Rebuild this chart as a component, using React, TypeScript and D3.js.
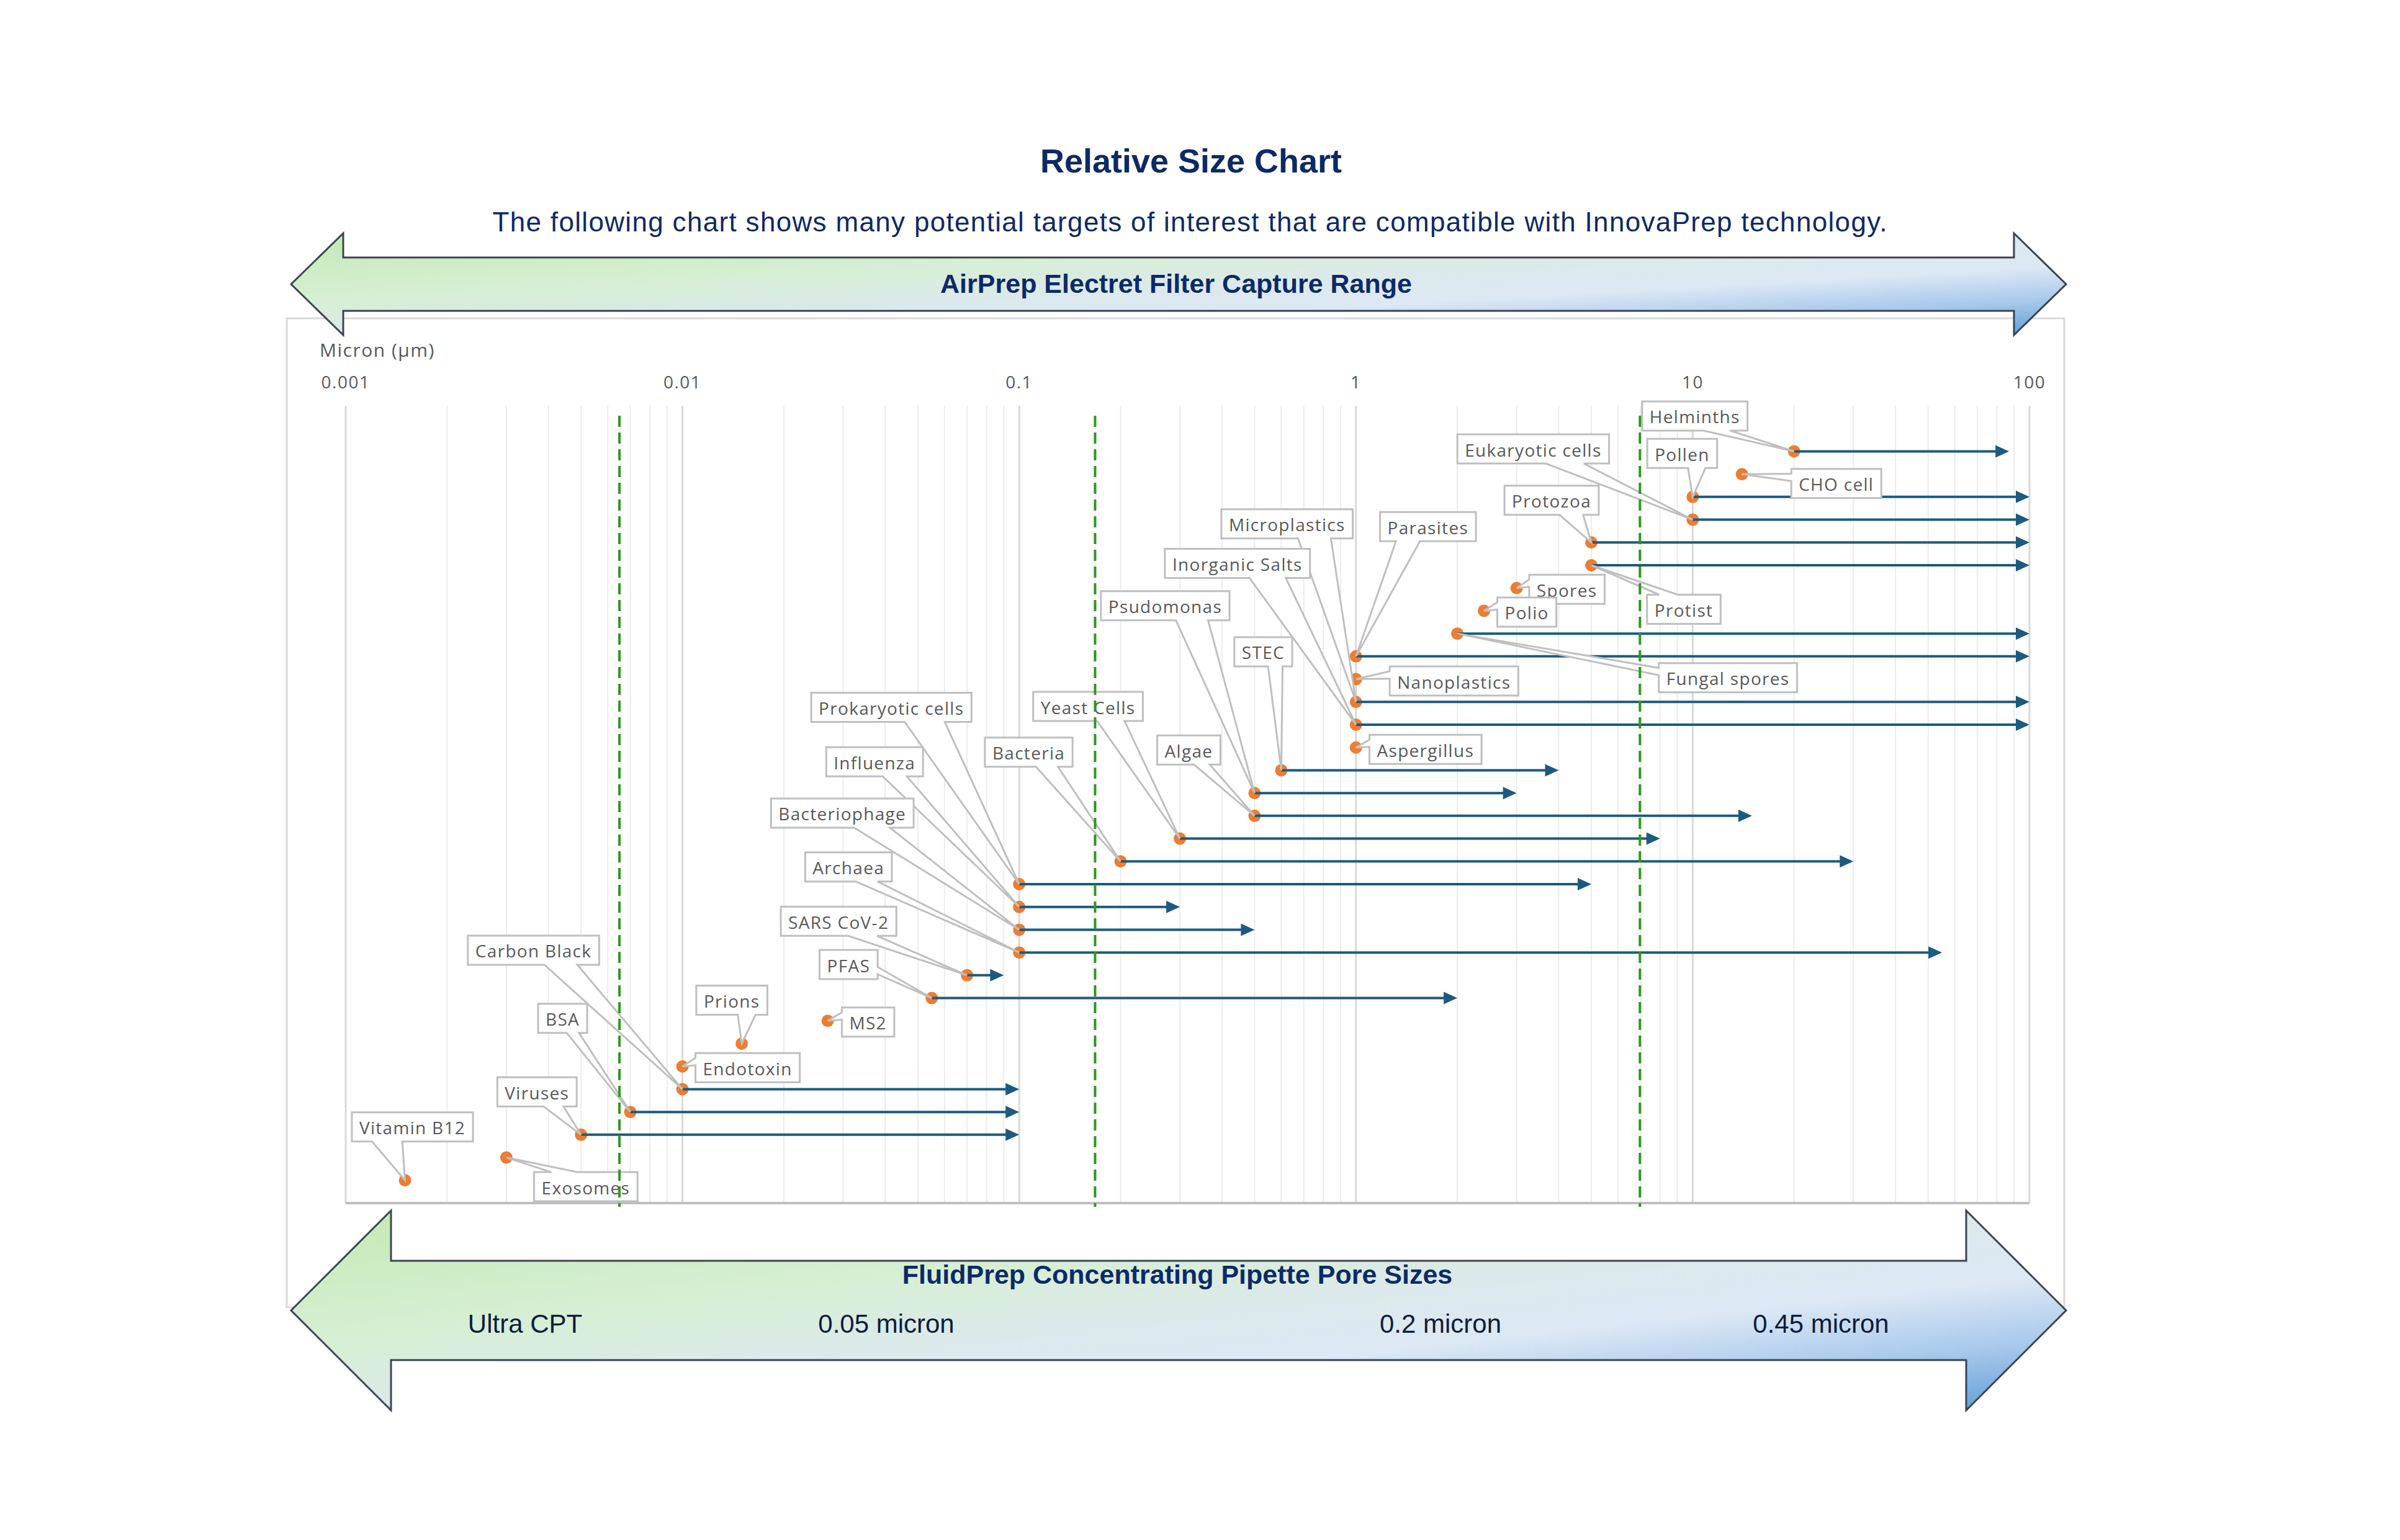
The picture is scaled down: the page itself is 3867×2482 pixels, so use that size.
import React, { useMemo } from "react";
import * as d3 from "d3";

const W = 3867;
const H = 2482;

// ---------------- data ----------------
const targets = [
  "Helminths", "CHO cell", "Pollen", "Eukaryotic cells", "Protozoa", "Protist", "Spores", "Polio",
  "Fungal spores", "Parasites", "Nanoplastics", "Microplastics", "Inorganic Salts", "Aspergillus",
  "STEC", "Psudomonas", "Algae", "Yeast Cells", "Bacteria", "Prokaryotic cells", "Influenza",
  "Bacteriophage", "Archaea", "SARS CoV-2", "PFAS", "MS2", "Prions", "Endotoxin", "Carbon Black",
  "BSA", "Viruses", "Exosomes", "Vitamin B12",
];
// smallest size (micron)
const minSize = [
  20, 14, 10, 10, 5, 5, 3, 2.4,
  2, 1, 1, 1, 1, 1,
  0.6, 0.5, 0.5, 0.3, 0.2, 0.1, 0.1,
  0.1, 0.1, 0.07, 0.055, 0.027, 0.015, 0.01, 0.01,
  0.007, 0.005, 0.003, 0.0015,
];
// upper end of size range (arrow), null = single value
const maxSize: (number | null)[] = [
  87, null, 100, 100, 100, 100, null, null,
  100, 100, null, 100, 100, null,
  4, 3, 15, 8, 30, 5, 0.3,
  0.5, 55, 0.09, 2, null, null, null, 0.1,
  0.1, 0.1, null, null,
];
// callout box centre relative to its point (layout, px)
const labelOffset: [number, number][] = [
  [-160, -57], [152, 15], [-17, -70], [-257, -114], [-64, -68], [149, 71], [81, 2], [69, 2],
  [436, 71], [116, -209], [158, 3], [-111, -287], [-191, -260], [112, 3],
  [-29, -191], [-144, -302], [-106, -106], [-148, -213], [-148, -176], [-206, -285], [-233, -234],
  [-285, -188], [-275, -138], [-207, -87], [-134, -54], [65, 2], [-16, -70], [105, 2], [-240, -224],
  [-109, -151], [-71, -69], [128, 47], [12, -86],
];
const poreLines = [0.0065, 0.168, 6.97];
const tickValues = [0.001, 0.01, 0.1, 1, 10, 100];
const tickLabels = ["0.001", "0.01", "0.1", "1", "10", "100"];
const poreLabels = ["Ultra CPT", "0.05 micron", "0.2 micron", "0.45 micron"];
const poreLabelX = [846, 1428, 2321, 2934];

const TITLE = "Relative Size Chart";
const SUBTITLE =
  "The following chart shows many potential targets of interest that are compatible with InnovaPrep technology.";
const TOP_ARROW = "AirPrep Electret Filter Capture Range";
const BOTTOM_ARROW = "FluidPrep Concentrating Pipette Pore Sizes";

// ---------------- layout ----------------
const PLOT = { left: 557, right: 3270, top: 654, bottom: 1939 };
const LABEL_FONT = "'Open Sans', 'Noto Sans', sans-serif";
const LABEL_SIZE = 28;
const LABEL_LS = 1.3;
const NAVY = "#0d2a66";

function calloutPath(cx: number, cy: number, w: number, h: number, tx: number, ty: number) {
  const l = cx - w / 2, r = cx + w / 2, t = cy - h / 2, b = cy + h / 2;
  const dx = tx - cx, dy = ty - cy;
  if (Math.abs(dx) <= w / 2 && Math.abs(dy) <= h / 2) {
    return `M${l},${t}H${r}V${b}H${l}Z`;
  }
  const dq = (dx * h) / w;
  const dz = Math.abs(dy) - Math.abs(dq);
  const x1 = l + (w * (dx > 0 ? 7 : 2)) / 12;
  const x2 = l + (w * (dx > 0 ? 10 : 5)) / 12;
  const y1 = t + (h * (dy > 0 ? 7 : 2)) / 12;
  const y2 = t + (h * (dy > 0 ? 10 : 5)) / 12;
  if (dz > 0) {
    if (dy < 0) return `M${l},${t}L${x1},${t}L${tx},${ty}L${x2},${t}L${r},${t}L${r},${b}L${l},${b}Z`;
    return `M${l},${t}L${r},${t}L${r},${b}L${x2},${b}L${tx},${ty}L${x1},${b}L${l},${b}Z`;
  }
  if (dx < 0) return `M${l},${t}L${r},${t}L${r},${b}L${l},${b}L${l},${y2}L${tx},${ty}L${l},${y1}Z`;
  return `M${l},${t}L${r},${t}L${r},${y1}L${tx},${ty}L${r},${y2}L${r},${b}L${l},${b}Z`;
}

function doubleArrow(x0: number, x1: number, cy: number, headLen: number, headHalf: number, shaftHalf: number) {
  return [
    `M${x0},${cy}`,
    `L${x0 + headLen},${cy - headHalf}`,
    `L${x0 + headLen},${cy - shaftHalf}`,
    `L${x1 - headLen},${cy - shaftHalf}`,
    `L${x1 - headLen},${cy - headHalf}`,
    `L${x1},${cy}`,
    `L${x1 - headLen},${cy + headHalf}`,
    `L${x1 - headLen},${cy + shaftHalf}`,
    `L${x0 + headLen},${cy + shaftHalf}`,
    `L${x0 + headLen},${cy + headHalf}`,
    "Z",
  ].join("");
}

export default function App() {
  const x = useMemo(() => d3.scaleLog().domain([0.001, 100]).range([PLOT.left, PLOT.right]), []);
  const y = useMemo(() => d3.scaleLinear().domain([0, 35]).range([PLOT.bottom, PLOT.top]), []);

  const widths = useMemo(() => {
    const ctx = document.createElement("canvas").getContext("2d")!;
    ctx.font = `${LABEL_SIZE}px ${LABEL_FONT}`;
    return targets.map((t) => ctx.measureText(t).width + LABEL_LS * t.length);
  }, []);

  const minor: number[] = [];
  for (let e = -3; e < 2; e++) for (let k = 2; k <= 9; k++) minor.push(k * Math.pow(10, e));

  const items = targets.map((name, i) => {
    const px = x(minSize[i]);
    const py = y(targets.length - i);
    const bw = widths[i] + 24;
    const bh = 47;
    const cx = px + labelOffset[i][0];
    const cy = py + labelOffset[i][1];
    return { name, i, px, py, bw, bh, cx, cy, max: maxSize[i] };
  });

  const arrowGrad = (id: string) => (
    <linearGradient id={id} x1="0" y1="0" x2="1" y2="1">
      <stop offset="0" stopColor="#c2e9b3" />
      <stop offset="0.33" stopColor="#d6efd3" />
      <stop offset="0.52" stopColor="#dce9ec" />
      <stop offset="0.66" stopColor="#dce8f5" />
      <stop offset="0.82" stopColor="#a9c9ec" />
      <stop offset="1" stopColor="#5b9bd5" />
    </linearGradient>
  );

  return (
    <svg width={W} height={H} viewBox={`0 0 ${W} ${H}`}
      style={{ display: "block", background: "#fff", position: "absolute", left: 0, top: 0 }}>
      <defs>
        {arrowGrad("gTop")}
        {arrowGrad("gBot")}
      </defs>
      <rect x={0} y={0} width={W} height={H} fill="#fff" />

      {/* titles */}
      <text x={1919} y={278} textAnchor="middle" fontFamily="'Liberation Sans', Arial, sans-serif"
        fontWeight="bold" fontSize={54} fill={NAVY}>{TITLE}</text>
      <text x={1917} y={373} textAnchor="middle" fontFamily="'Liberation Sans', Arial, sans-serif"
        fontSize={44} textLength={2247} lengthAdjust="spacing" fill={NAVY}>{SUBTITLE}</text>

      {/* chart frame */}
      <rect x={462} y={513} width={2864} height={1594} fill="#fff" stroke="#d9d9d9" strokeWidth={3} />

      {/* gridlines */}
      <g>
        {minor.map((v, k) => (
          <line key={"m" + k} x1={x(v)} x2={x(v)} y1={PLOT.top} y2={PLOT.bottom} stroke="#ececec" strokeWidth={2} />
        ))}
        {tickValues.map((v, k) => (
          <line key={"M" + k} x1={x(v)} x2={x(v)} y1={PLOT.top} y2={PLOT.bottom} stroke="#d9d9d9" strokeWidth={3} />
        ))}
        <line x1={PLOT.left} x2={PLOT.right} y1={PLOT.bottom} y2={PLOT.bottom} stroke="#bfbfbf" strokeWidth={4} />
      </g>

      {/* axis labels */}
      <text x={515} y={575} fontFamily={LABEL_FONT} fontSize={30} letterSpacing={1.5} fill="#595959">Micron (µm)</text>
      {tickValues.map((v, k) => (
        <text key={"t" + k} x={x(v)} y={626} textAnchor="middle" fontFamily={LABEL_FONT} fontSize={28}
          letterSpacing={1.5} fill="#595959">{tickLabels[k]}</text>
      ))}

      {/* points */}
      {items.map((d) => (
        <circle key={"p" + d.i} cx={d.px} cy={d.py} r={10} fill="#ed7d31" />
      ))}

      {/* size range arrows */}
      {items.filter((d) => d.max != null).map((d) => {
        const xe = x(d.max as number);
        return (
          <g key={"a" + d.i}>
            <line x1={d.px} x2={xe - 18} y1={d.py} y2={d.py} stroke="#1d5b7e" strokeWidth={4} />
            <path d={`M${xe},${d.py}L${xe - 22},${d.py - 10}L${xe - 22},${d.py + 10}Z`} fill="#1d5b7e" />
          </g>
        );
      })}

      {/* callouts */}
      {items.map((d) => (
        <g key={"c" + d.i}>
          <path d={calloutPath(d.cx, d.cy, d.bw, d.bh, d.px, d.py)} fill="#fff" stroke="#bfbfbf"
            strokeWidth={3} strokeLinejoin="miter" />
          <text x={d.cx} y={d.cy + 1} textAnchor="middle" dominantBaseline="central" fontFamily={LABEL_FONT}
            fontSize={LABEL_SIZE} letterSpacing={LABEL_LS} fill="#595959">{d.name}</text>
        </g>
      ))}

      {/* pore size lines */}
      {poreLines.map((v, k) => (
        <line key={"g" + k} x1={x(v)} x2={x(v)} y1={670} y2={1945} stroke="#2b9a1c" strokeWidth={4}
          strokeDasharray="18 9" />
      ))}

      {/* top arrow */}
      <path d={doubleArrow(469, 3329, 458, 84, 82, 43)} fill="url(#gTop)" stroke="#3b4550" strokeWidth={3}
        strokeLinejoin="miter" />
      <text x={1895} y={461} textAnchor="middle" dominantBaseline="middle"
        fontFamily="'Liberation Sans', Arial, sans-serif" fontWeight="bold" fontSize={43} fill={NAVY}>{TOP_ARROW}</text>

      {/* bottom arrow */}
      <path d={doubleArrow(469, 3329, 2112, 161, 161, 80)} fill="url(#gBot)" stroke="#3b4550" strokeWidth={3}
        strokeLinejoin="miter" />
      <text x={1897} y={2058} textAnchor="middle" dominantBaseline="middle"
        fontFamily="'Liberation Sans', Arial, sans-serif" fontWeight="bold" fontSize={43} fill={NAVY}>{BOTTOM_ARROW}</text>
      {poreLabels.map((t, k) => (
        <text key={"pl" + k} x={poreLabelX[k]} y={2137} textAnchor="middle" dominantBaseline="middle"
          fontFamily="'Liberation Sans', Arial, sans-serif" fontSize={42} fill="#0f1d3a">{t}</text>
      ))}
    </svg>
  );
}
